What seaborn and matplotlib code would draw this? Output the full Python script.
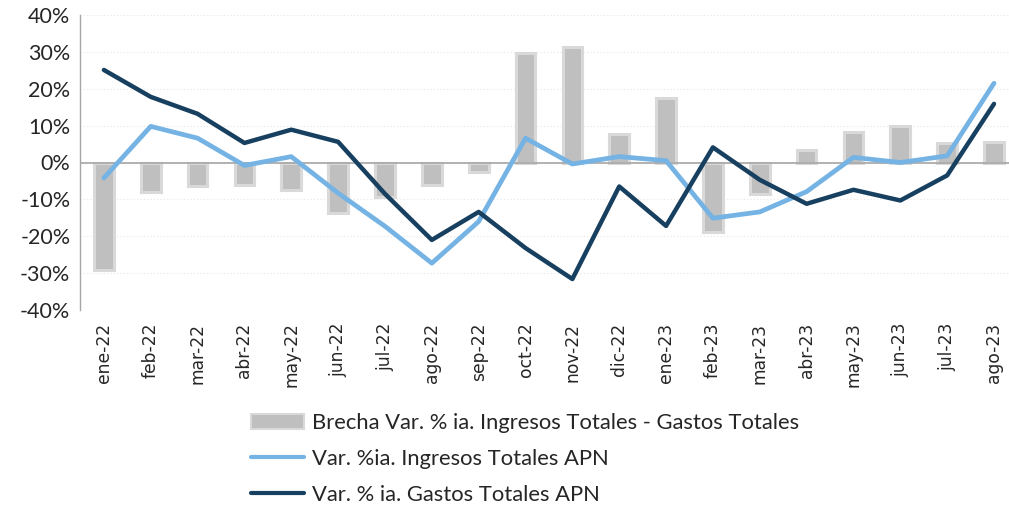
import numpy as np
import pandas as pd
import matplotlib
matplotlib.use("Agg")
import matplotlib.pyplot as plt
import seaborn as sns
from matplotlib.patches import Patch
from matplotlib.lines import Line2D
from matplotlib.ticker import FuncFormatter

months = ["ene-22", "feb-22", "mar-22", "abr-22", "may-22", "jun-22", "jul-22",
          "ago-22", "sep-22", "oct-22", "nov-22", "dic-22", "ene-23", "feb-23",
          "mar-23", "abr-23", "may-23", "jun-23", "jul-23", "ago-23"]
brecha = [-29.1, -7.9, -6.5, -6.0, -7.4, -13.7, -9.4, -6.0, -2.6, 29.6,
          31.2, 7.7, 17.4, -18.9, -8.6, 3.3, 8.4, 9.9, 5.3, 5.5]
ingresos = [-4.2, 9.8, 6.6, -0.8, 1.6, -8.3, -17.3, -27.3, -16.0, 6.6,
            -0.4, 1.6, 0.5, -15.1, -13.4, -7.9, 1.4, 0.0, 1.8, 21.5]
gastos = [25.1, 17.8, 13.2, 5.3, 8.9, 5.6, -8.5, -21.0, -13.4, -23.2,
          -31.6, -6.5, -17.2, 4.1, -4.7, -11.2, -7.4, -10.3, -3.5, 15.9]

lbl_bar = "Brecha Var. % ia. Ingresos Totales - Gastos Totales"
lbl_ing = "Var. %ia. Ingresos Totales APN"
lbl_gas = "Var. % ia. Gastos Totales APN"

c_bar = "#BFBFBF"
c_bar_edge = "#D9D9D9"
c_ing = "#74B3E3"
c_gas = "#173F5F"

sns.set_theme(style="white")
plt.rcParams["font.family"] = ["Lato", "DejaVu Sans"]

fig = plt.figure(figsize=(10.09, 5.08), dpi=100)
ax = fig.add_axes([80 / 1009, 1 - 310 / 508, 929 / 1009, 295 / 508])

df = pd.DataFrame({"mes": months, "brecha": brecha,
                   "ingresos": ingresos, "gastos": gastos})
df["pos"] = np.arange(len(months))

sns.barplot(data=df, x="mes", y="brecha", order=months, color=c_bar,
            width=0.42, edgecolor=c_bar_edge, linewidth=2.2, saturation=1,
            ax=ax, zorder=2)
sns.lineplot(data=df, x="pos", y="ingresos", color=c_ing, linewidth=3.4,
             ax=ax, zorder=4)
sns.lineplot(data=df, x="pos", y="gastos", color=c_gas, linewidth=3.2,
             ax=ax, zorder=5)

ax.set_ylim(-40, 40)
ax.set_xlim(-0.51, 19.32)
ax.set_yticks(np.arange(-40, 41, 10))
ax.yaxis.set_major_formatter(FuncFormatter(lambda v, p: f"{int(round(v))}%"))
ax.set_xticks(np.arange(len(months)))
ax.set_xticklabels(months, rotation=90, fontsize=12.3)
ax.tick_params(axis="y", labelsize=15.5, pad=7, length=0)
ax.tick_params(axis="x", pad=9, length=0)
for lab in ax.get_xticklabels():
    lab.set_family(["DejaVu Sans"])
for lab in ax.get_yticklabels():
    lab.set_family(["Lato", "DejaVu Sans"])
ax.set_xlabel("")
ax.set_ylabel("")

ax.grid(axis="y", color="#E6E6E6", linestyle=(0, (1, 2)), linewidth=0.8, zorder=0)
ax.axhline(0, color="#A6A6A6", linewidth=1.2, zorder=3)
for s in ["top", "right", "bottom"]:
    ax.spines[s].set_visible(False)
ax.spines["left"].set_color("#A6A6A6")
ax.spines["left"].set_linewidth(1.0)

handles = [Patch(facecolor=c_bar, edgecolor=c_bar_edge, linewidth=1.5),
           Line2D([0], [0], color=c_ing, linewidth=3),
           Line2D([0], [0], color=c_gas, linewidth=3)]
fig.legend(handles, [lbl_bar, lbl_ing, lbl_gas], loc="upper left",
           bbox_to_anchor=(251 / 1009, 1 - 413 / 508), frameon=False,
           fontsize=15.8, handlelength=2.4, handletextpad=0.4, labelspacing=0.72,
           borderaxespad=0, borderpad=0)

fig.savefig("out.png", dpi=100)
